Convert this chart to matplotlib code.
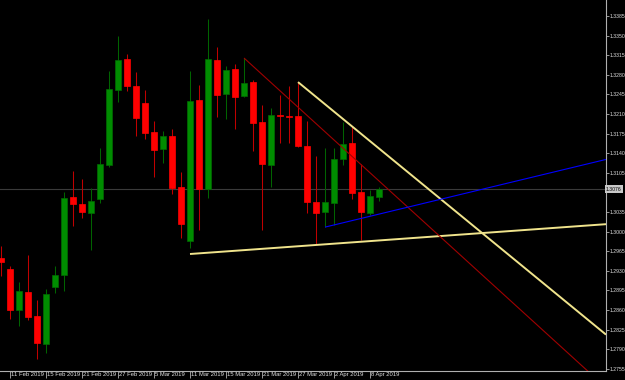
import numpy as np
import pandas as pd
import matplotlib
matplotlib.use("Agg")
import matplotlib.pyplot as plt
import matplotlib.transforms as mtransforms

# GBPUSD daily candles, 8 Feb 2019 - 9 Apr 2019
dates = pd.bdate_range("2019-02-08", "2019-04-09")
opens = [1.2953, 1.2933, 1.2860, 1.2892, 1.2849, 1.2799, 1.2901, 1.2923, 1.3062, 1.3049,
         1.3033, 1.3058, 1.3119, 1.3253, 1.3308, 1.3260, 1.3230, 1.3178, 1.3147, 1.3171,
         1.3080, 1.2983, 1.3235, 1.3076, 1.3306, 1.3246, 1.3290, 1.3242, 1.3267, 1.3196,
         1.3119, 1.3208, 1.3207, 1.3206, 1.3153, 1.3053, 1.3035, 1.3051, 1.3130, 1.3158,
         1.3071, 1.3033, 1.3062]
highs = [1.2974, 1.2939, 1.2910, 1.2958, 1.2878, 1.2898, 1.2939, 1.3071, 1.3108, 1.3094,
         1.3078, 1.3149, 1.3287, 1.3349, 1.3317, 1.3285, 1.3253, 1.3198, 1.3180, 1.3183,
         1.3106, 1.3287, 1.3262, 1.3380, 1.3330, 1.3296, 1.3299, 1.3310, 1.3271, 1.3226,
         1.3221, 1.3244, 1.3260, 1.3267, 1.3197, 1.3135, 1.3149, 1.3149, 1.3196, 1.3189,
         1.3121, 1.3074, 1.3080]
lows = [1.2921, 1.2844, 1.2831, 1.2842, 1.2772, 1.2783, 1.2890, 1.2894, 1.3010, 1.3024,
        1.2967, 1.3051, 1.3115, 1.3232, 1.3251, 1.3171, 1.3165, 1.3098, 1.3122, 1.3067,
        1.2989, 1.2971, 1.3003, 1.3060, 1.3205, 1.3201, 1.3183, 1.3240, 1.3144, 1.3003,
        1.3080, 1.3158, 1.3158, 1.3151, 1.3033, 1.2978, 1.3008, 1.3012, 1.3119, 1.3058,
        1.2985, 1.3030, 1.3055]
closes = [1.2946, 1.2860, 1.2894, 1.2847, 1.2801, 1.2889, 1.2923, 1.3060, 1.3049, 1.3035,
          1.3055, 1.3121, 1.3255, 1.3306, 1.3260, 1.3203, 1.3176, 1.3146, 1.3171, 1.3078,
          1.3014, 1.3233, 1.3076, 1.3308, 1.3244, 1.3289, 1.3240, 1.3265, 1.3194, 1.3121,
          1.3208, 1.3206, 1.3205, 1.3153, 1.3053, 1.3033, 1.3053, 1.3130, 1.3156, 1.3069,
          1.3035, 1.3064, 1.3076]

# trend lines drawn on the chart: two anchors (bar index, price), extended to the right
support_line = [(21, 1.2960), (67, 1.3013)]
falling_line = [(33, 1.3267), (67, 1.2819)]
red_line = [(27, 1.3310), (60, 1.2827)]
blue_line = [(36, 1.3008), (67, 1.3128)]

price_ticks = np.round(np.arange(1.2755, 1.3386, 0.0035), 4)
label_every = 4

font = "Liberation Sans"

x = np.arange(len(dates))
o, h, l, c = map(np.array, (opens, highs, lows, closes))
up = c >= o

fig = plt.figure(figsize=(6.25, 3.8), dpi=100, facecolor="black")
ax = fig.add_axes([0, 9 / 380, 606 / 625, 371 / 380], facecolor="black")
ax.set_xlim(-1 / 9, 605 / 9)
ax.set_ylim(1.3385 - 355 / 5600, 1.3385 + 16 / 5600)

# last price line
ax.axhline(closes[-1], color="#3a3a3a", lw=0.8, zorder=1)

# candles
ax.vlines(x[up], l[up], h[up], color="#006400", lw=0.75, zorder=2)
ax.vlines(x[~up], l[~up], h[~up], color="#c00000", lw=0.75, zorder=2)
ax.bar(x[up], c[up] - o[up], bottom=o[up], width=0.68, color="#008c00",
       edgecolor="#006a00", lw=0.5, zorder=3)
ax.bar(x[~up], np.maximum(o[~up] - c[~up], 0.00008), bottom=c[~up], width=0.68,
       color="#ff0000", edgecolor="#ff0000", lw=0.5, zorder=3)

# trend lines
x_end = ax.get_xlim()[1]
for line, color, lw in [(support_line, "#f0e48c", 1.4), (falling_line, "#f0e48c", 1.4),
                        (red_line, "#a00000", 0.8), (blue_line, "#0000ff", 0.8)]:
    (x0, y0), (x1, y1) = line
    slope = (y1 - y0) / (x1 - x0)
    ax.plot([x0, x_end], [y0, y0 + slope * (x_end - x0)], color=color, lw=lw, zorder=4,
            solid_capstyle="butt")

# axes styling
for side in ["top", "left"]:
    ax.spines[side].set_visible(False)
for side in ["right", "bottom"]:
    ax.spines[side].set_color("#b0b0b0")
    ax.spines[side].set_linewidth(0.8)

ax.yaxis.tick_right()
ax.set_yticks(price_ticks)
ax.set_yticklabels([f"{p:.4f}" if abs(p - 1.3070) > 1e-6 else "" for p in price_ticks])
ax.tick_params(axis="y", colors="#b0b0b0", labelcolor="#e0e0e0", length=2, width=0.6,
               pad=0.6, labelsize=3.7)

tick_idx = x[1::label_every]
ax.set_xticks(tick_idx)
ax.set_xticklabels([dates[i].strftime("%-d %b %Y") for i in tick_idx], ha="left")
ax.tick_params(axis="x", colors="#b0b0b0", labelcolor="#e0e0e0", length=5, width=0.6,
               pad=-4.6, labelsize=4.2)
offset = mtransforms.ScaledTranslation(1.5 / 100, 0, fig.dpi_scale_trans)
for lab in ax.get_xticklabels():
    lab.set_transform(lab.get_transform() + offset)
    lab.set_fontfamily(font)
for lab in ax.get_yticklabels():
    lab.set_fontfamily(font)

# current price label
ax.text(1.0, closes[-1], f"{closes[-1]:.4f}", transform=ax.get_yaxis_transform(),
        ha="left", va="center", fontsize=3.7, family=font, color="black",
        bbox=dict(boxstyle="square,pad=0.25", fc="#c8c8c8", ec="none"), clip_on=False,
        zorder=10)

fig.savefig("out.png", dpi=100, facecolor="black")
